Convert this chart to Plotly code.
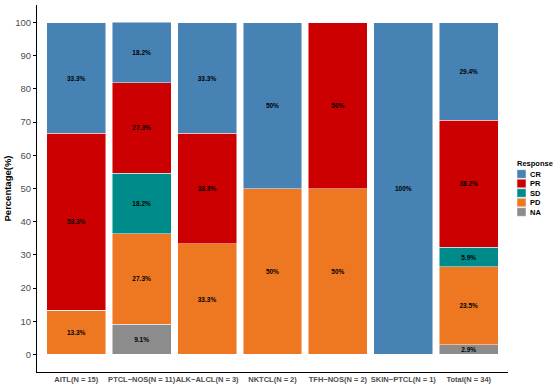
import plotly.graph_objects as go

categories = ["AITL(N = 15)", "PTCL−NOS(N = 11)", "ALK−ALCL(N = 3)", "NKTCL(N = 2)",
              "TFH−NOS(N = 2)", "SKIN−PTCL(N = 1)", "Total(N = 34)"]
responses = ["NA", "PD", "SD", "PR", "CR"]
legend_order = ["CR", "PR", "SD", "PD", "NA"]
values = {
    "CR": [33.3, 18.2, 33.3, 50, 0, 100, 29.4],
    "PR": [53.3, 27.3, 33.3, 0, 50, 0, 38.2],
    "SD": [0, 18.2, 0, 0, 0, 0, 5.9],
    "PD": [13.3, 27.3, 33.3, 50, 50, 0, 23.5],
    "NA": [0, 9.1, 0, 0, 0, 0, 2.9],
}
colors = {"CR": "#4682B4", "PR": "#CC0000", "SD": "#008B8B", "PD": "#EE7722", "NA": "#8C8C8C"}

def fmt(v):
    if v == 0:
        return ""
    if float(v).is_integer():
        return f"{int(v)}%"
    return f"{v}%"

fig = go.Figure()
for r in responses:
    vals = values[r]
    fig.add_trace(go.Bar(
        x=list(range(1, len(categories) + 1)), y=vals, name=r, showlegend=False,
        marker=dict(color=colors[r], line=dict(color="rgba(255,255,255,0.6)", width=0.8)),
        text=[fmt(v) for v in vals], textposition="inside", insidetextanchor="middle",
        textangle=0, constraintext="none",
        textfont=dict(family="Liberation Sans, Arial", size=6.5, color="black", weight="bold"),
    ))

# manual legend (ggplot-like compact keys)
W, H = 554, 387
ml, mr, mt, mb = 37, 46, 5, 15
pw, ph = W - ml - mr, H - mt - mb
def px_x(x):
    return (x - ml) / pw
def px_y(y):
    return (H - mb - y) / ph

fig.add_annotation(x=px_x(515), y=px_y(163), xref="paper", yref="paper", text="<b>Response</b>",
                   showarrow=False, xanchor="left", yanchor="middle",
                   font=dict(size=7.5, color="black", family="Liberation Sans, Arial"))
for i, r in enumerate(legend_order):
    cy = 174 + i * 9.5
    fig.add_shape(type="rect", xref="paper", yref="paper",
                  x0=px_x(517), x1=px_x(526), y0=px_y(cy + 4.3), y1=px_y(cy - 4.3),
                  fillcolor=colors[r], line=dict(color="white", width=0.5))
    fig.add_annotation(x=px_x(528), y=px_y(cy), xref="paper", yref="paper", text=f"<b>{r}</b>",
                       showarrow=False, xanchor="left", yanchor="middle",
                       font=dict(size=7.5, color="black", family="Liberation Sans, Arial"))

fig.update_layout(
    barmode="stack", bargap=0.1,
    width=W, height=H,
    margin=dict(l=ml, r=mr, t=mt, b=mb, autoexpand=False),
    plot_bgcolor="white", paper_bgcolor="white",
    font=dict(family="Liberation Sans, Arial", color="#222"),
    showlegend=False,
    xaxis=dict(
        tickmode="array", tickvals=list(range(1, 8)), ticktext=categories,
        range=[0.4, 7.6], showline=True, linecolor="black", linewidth=1.2,
        ticks="", tickangle=0, automargin=False,
        tickfont=dict(size=7.5, color="#4D4D4D", weight="bold"),
        showgrid=False, zeroline=False,
    ),
    yaxis=dict(
        range=[-5.3, 105.3], tickvals=list(range(0, 101, 10)),
        showline=True, linecolor="black", linewidth=1.2, automargin=False,
        ticks="outside", ticklen=3, tickcolor="black",
        tickfont=dict(size=9.5, color="#4D4D4D"),
        title=dict(text="<b>Percentage(%)</b>", font=dict(size=9.5, color="black"), standoff=1),
        showgrid=False, zeroline=False,
    ),
)

fig.write_html("out.html", config={"displayModeBar": False},
               post_script="document.body.style.margin='0';document.body.style.overflow='hidden';")
